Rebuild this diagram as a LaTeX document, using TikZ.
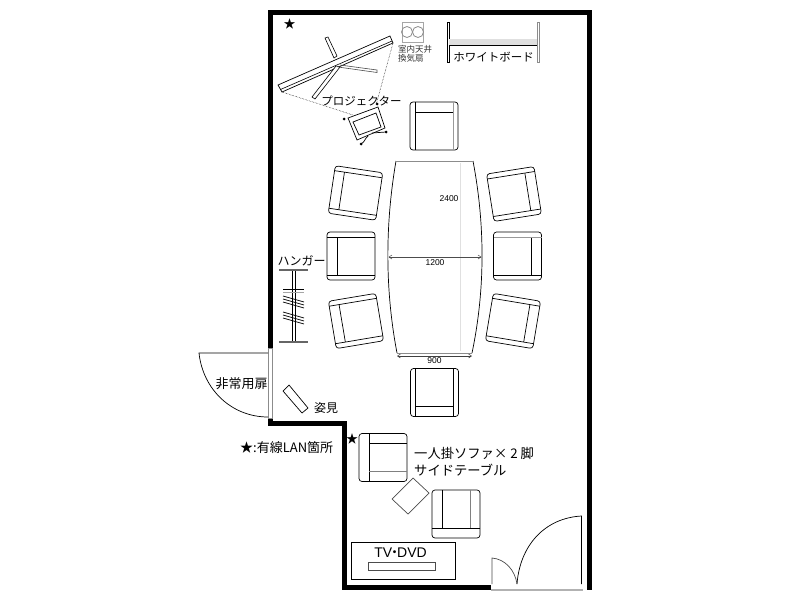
\documentclass[tikz,border=0pt]{standalone}
\usepackage{fontspec}
\usetikzlibrary{arrows.meta}
\setmainfont{Noto Sans CJK JP}
\newfontfamily\jpfont{Noto Sans CJK JP}
\newfontfamily\latinfont{Liberation Sans}
\newcommand{\chairbody}[2]{%
    \draw[line width=.7pt,rounded corners=3pt] (-24,-24) rectangle (24,24);
    \draw[line width=.7pt] (-19,-14) -- (19,-14);
    \draw[line width=.7pt,draw=#1] (-19,-24) -- (-19,24);
    \draw[line width=.7pt,draw=#2] (19,-24) -- (19,24);
}
\begin{document}
\begin{tikzpicture}[x=1pt,y=-1pt,line join=miter,
  wallline/.style={line width=5pt,line cap=butt,line join=miter},
  thin line/.style={line width=0.7pt},
  grayline/.style={line width=0.8pt,draw=black!45},
  dimarrow/.style={line width=.5pt,{Straight Barb[length=3pt,width=4pt]}-{Straight Barb[length=3pt,width=4pt]}},
  lab/.style={inner sep=0pt,font=\fontsize{12}{12}\selectfont},
  dim/.style={inner sep=0pt,font=\latinfont\fontsize{8.5}{9}\selectfont},
  small/.style={inner sep=0pt,font=\fontsize{8.5}{9}\selectfont,text=black!80,align=left},
  chairpic/.pic={\chairbody{black}{black}},
  chairgr/.pic={\chairbody{black}{black!40}},
  chairgl/.pic={\chairbody{black!40}{black}},
  sofapic/.pic={
    \draw[line width=.7pt,rounded corners=3pt] (-24,-24) rectangle (24,24);
    \draw[line width=.7pt] (-24,-14) -- (24,-14);
    \draw[line width=.7pt,draw=black!50] (-14,-14) -- (-14,24);
    \draw[line width=.7pt] (14,-14) -- (14,24);
  }]
\useasboundingbox (0,0) rectangle (800,600);
\fill[white] (0,0) rectangle (800,600);

% walls
\draw[wallline] (270.5,348) -- (270.5,12.5) -- (589.5,12.5) -- (589.5,590);
\draw[wallline] (270.5,418) -- (270.5,423.5) -- (344.5,423.5) -- (344.5,587) -- (491,587);
\draw[grayline,fill=white] (268.5,348) rectangle (272.5,418);
\draw[line width=2pt,draw=black!30] (491,590) -- (583,590);

% emergency door
\draw[thin line] (268,353) -- (199,353) .. controls (203,390) and (232,417) .. (268,417);
% entrance doors
\draw[thin line] (581.5,584) -- (581.5,516) .. controls (545,518) and (520,545) .. (517,584);
\draw[thin line,draw=black!70] (492,584) -- (492,558) .. controls (505,559) and (515,570) .. (517,584);

% screen
\draw[thin line] (278,85) -- (390,36) -- (393,43) -- (282,92) -- cycle;
\draw[line width=.6pt] (280.5,89.5) -- (392,41);
\draw[line width=.6pt] (325,38) -- (328,37) -- (337,56) -- (334,58) -- cycle;
\draw[line width=.6pt,fill=white] (336,66) -- (340,67) -- (315,99) -- (312,97) -- cycle;
\draw[line width=.6pt,draw=black!70] (338,67) -- (377,72.5) -- (377,70) -- (340,65);
\draw[line width=.5pt,densely dotted] (282,92) -- (353,115);
\draw[line width=.5pt,densely dotted] (393,43) -- (376,105);

% projector
\draw[thin line] (348,118) -- (378,107) -- (385,128) -- (357,140) -- cycle;
\draw[thin line] (353,122) -- (376,113) -- (381,127) -- (359,135) -- cycle;
\draw[thin line] (361,144) .. controls (365,142) and (365,138) .. (368,136);
\draw[thin line] (372,133) -- (386,132);
\foreach \p in {(344,119),(377,104),(386,132),(361,144)} \fill \p circle (1.5pt);

% ventilator
\draw[grayline,draw=black!35] (402,22) rectangle (423,42);
\draw[grayline,draw=black!45] (407,32) circle (5.5pt);
\draw[grayline,draw=black!45] (418,32) circle (5.5pt);
\node[small] (vent) at (415,53.5) {室内天井\\換気扇};

% whiteboard
\draw[line width=.5pt] (447.5,22) rectangle (449,62);
\draw[grayline] (537,22) rectangle (539,62);
\fill[black!12] (449,39) rectangle (537,45);
\draw[line width=.9pt] (449,45) -- (537,45);
\node[lab,font=\fontsize{11.5}{12}\selectfont] (wb) at (493.5,57) {ホワイトボード};

% chairs
\pic[rotate=0] at (434,126) {chairgr};
\pic[rotate=81.5] at (355.5,193) {chairpic};
\pic[rotate=-81] at (514,194) {chairpic};
\pic[rotate=90] at (351,256) {chairpic};
\pic[rotate=-90] at (517.5,256) {chairgl};
\pic[rotate=99.5] at (356,321) {chairpic};
\pic[rotate=-99.5] at (513,321) {chairpic};
\pic[rotate=180] at (434.5,392.5) {chairpic};
\pic[rotate=90] at (383,457.5) {sofapic};
\pic[rotate=180] at (456,514) {sofapic};

% table
\draw[thin line] (396,161) .. controls (385,225) and (385,290) .. (397,353);
\draw[thin line] (473,161) .. controls (485.2,225) and (485.2,290) .. (472,353);
\draw[grayline] (396,161) -- (473,161);
\draw[grayline] (397,353) -- (472,353);
\draw[line width=.5pt,draw=black!12] (460,163) -- (460,351);
\draw[dimarrow,draw=black!70] (388.5,257) -- (481.5,257);
\draw[dimarrow,draw=black!75] (397,356) -- (472,356);
\node[dim] (d2400) at (449,198.5) {2400};
\node[dim] (d1200) at (435,262.5) {1200};
\node[dim] (d900) at (434.5,360.5) {900};

% hanger
\draw[line width=1.6pt,draw=black!60] (279,270) -- (308,270);
\draw[line width=1.6pt,draw=black!60] (279,342) -- (308,342);
\draw[line width=.7pt] (292,271) -- (292,341);
\draw[line width=.7pt] (295,271) -- (295,341);
\draw[line width=.7pt] (283,289) -- (304,289);
\draw[line width=.7pt,draw=black!35] (283,292) -- (304,292);
\foreach \yy in {296,299,302,312,315,318}
  \draw[line width=.7pt] (283,\yy) -- (304,\yy+6);
\node[lab] (hanger) at (301.5,261) {ハンガー};

% mirror
\draw[thin line] (289,385) -- (308,408) -- (302,413) -- (283,391) -- cycle;
\node[lab] (mirror) at (326,408) {姿見};

% labels
\node[lab,font=\fontsize{13}{13}\selectfont] (emg) at (241.5,384) {非常用扉};
\node[lab,font=\fontsize{11.5}{12}\selectfont] (proj) at (361.5,100.5) {プロジェクター};
\node[inner sep=0pt,anchor=west,font=\fontsize{13}{13}\selectfont] (lan) at (240,448) {★:有線LAN箇所};
\node[lab] (star1) at (289.5,23.5) {★};
\node[lab] (star2) at (352,439) {★};
\node[inner sep=0pt,anchor=west,font=\fontsize{13.3}{14}\selectfont] (s1) at (414,453) {一人掛ソファ× 2 脚};
\node[inner sep=0pt,anchor=west,font=\fontsize{13.3}{14}\selectfont] (s2) at (414,470) {サイドテーブル};

% side table
\draw[thin line,draw=black!70] (413,478) -- (429,493) -- (408,514) -- (392,499) -- cycle;

% TV
\draw[thin line] (351,542) rectangle (455,579);
\draw[thin line,draw=black!70] (368,562) rectangle (435,570);
\node[inner sep=0pt,font=\latinfont\fontsize{14}{14}\selectfont] (tv) at (400.5,553) {TV\hspace{-4.5pt}{\jpfont ・}\hspace{-4.5pt}DVD};
\end{tikzpicture}
\end{document}
